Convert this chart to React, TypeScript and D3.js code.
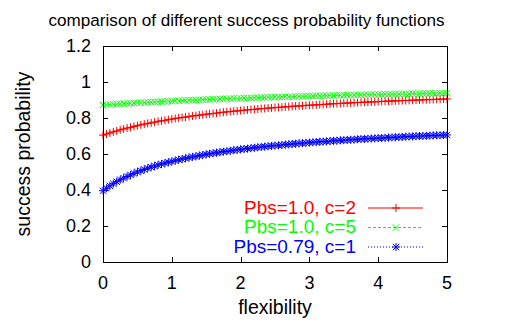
import * as d3 from "d3";

// sample grid (flexibility) and the three curves
const flexibility = [
  0, 0.05, 0.1, 0.15, 0.2, 0.25, 0.3, 0.35, 0.4, 0.45, 0.5, 0.55, 0.6, 0.65, 0.7, 0.75, 0.8, 0.85, 0.9, 0.95,
  1, 1.05, 1.1, 1.15, 1.2, 1.25, 1.3, 1.35, 1.4, 1.45, 1.5, 1.55, 1.6, 1.65, 1.7, 1.75, 1.8, 1.85, 1.9, 1.95,
  2, 2.05, 2.1, 2.15, 2.2, 2.25, 2.3, 2.35, 2.4, 2.45, 2.5, 2.55, 2.6, 2.65, 2.7, 2.75, 2.8, 2.85, 2.9, 2.95,
  3, 3.05, 3.1, 3.15, 3.2, 3.25, 3.3, 3.35, 3.4, 3.45, 3.5, 3.55, 3.6, 3.65, 3.7, 3.75, 3.8, 3.85, 3.9, 3.95,
  4, 4.05, 4.1, 4.15, 4.2, 4.25, 4.3, 4.35, 4.4, 4.45, 4.5, 4.55, 4.6, 4.65, 4.7, 4.75, 4.8, 4.85, 4.9, 4.95,
  5,
];

const pbs10c2 = [
  0.705, 0.711, 0.717, 0.723, 0.728, 0.734, 0.739, 0.744, 0.748, 0.753, 0.757, 0.762, 0.766, 0.770, 0.773, 0.777, 0.781, 0.784, 0.787, 0.791,
  0.794, 0.797, 0.800, 0.803, 0.805, 0.808, 0.811, 0.813, 0.816, 0.818, 0.821, 0.823, 0.825, 0.827, 0.830, 0.832, 0.834, 0.836, 0.838, 0.839,
  0.841, 0.843, 0.845, 0.847, 0.848, 0.850, 0.852, 0.853, 0.855, 0.856, 0.858, 0.859, 0.860, 0.862, 0.863, 0.865, 0.866, 0.867, 0.868, 0.870,
  0.871, 0.872, 0.873, 0.874, 0.875, 0.877, 0.878, 0.879, 0.880, 0.881, 0.882, 0.883, 0.884, 0.885, 0.886, 0.887, 0.888, 0.888, 0.889, 0.890,
  0.891, 0.892, 0.893, 0.894, 0.894, 0.895, 0.896, 0.897, 0.897, 0.898, 0.899, 0.900, 0.900, 0.901, 0.902, 0.902, 0.903, 0.904, 0.904, 0.905,
  0.906,
];

const pbs10c5 = [
  0.872, 0.873, 0.875, 0.876, 0.877, 0.878, 0.880, 0.881, 0.882, 0.883, 0.884, 0.885, 0.886, 0.887, 0.888, 0.889, 0.890, 0.891, 0.892, 0.893,
  0.894, 0.895, 0.896, 0.897, 0.898, 0.899, 0.899, 0.900, 0.901, 0.902, 0.903, 0.903, 0.904, 0.905, 0.906, 0.906, 0.907, 0.908, 0.909, 0.909,
  0.910, 0.911, 0.911, 0.912, 0.912, 0.913, 0.914, 0.914, 0.915, 0.916, 0.916, 0.917, 0.917, 0.918, 0.918, 0.919, 0.920, 0.920, 0.921, 0.921,
  0.922, 0.922, 0.923, 0.923, 0.924, 0.924, 0.925, 0.925, 0.926, 0.926, 0.927, 0.927, 0.927, 0.928, 0.928, 0.929, 0.929, 0.930, 0.930, 0.930,
  0.931, 0.931, 0.932, 0.932, 0.932, 0.933, 0.933, 0.934, 0.934, 0.934, 0.935, 0.935, 0.935, 0.936, 0.936, 0.937, 0.937, 0.937, 0.938, 0.938,
  0.938,
];

const pbs079c1 = [
  0.396, 0.410, 0.423, 0.435, 0.446, 0.457, 0.466, 0.475, 0.484, 0.492, 0.500, 0.507, 0.514, 0.521, 0.527, 0.533, 0.539, 0.544, 0.549, 0.554,
  0.559, 0.563, 0.568, 0.572, 0.576, 0.580, 0.584, 0.587, 0.591, 0.594, 0.598, 0.601, 0.604, 0.607, 0.610, 0.613, 0.615, 0.618, 0.621, 0.623,
  0.626, 0.628, 0.630, 0.632, 0.635, 0.637, 0.639, 0.641, 0.643, 0.645, 0.647, 0.648, 0.650, 0.652, 0.654, 0.655, 0.657, 0.659, 0.660, 0.662,
  0.663, 0.665, 0.666, 0.668, 0.669, 0.670, 0.672, 0.673, 0.674, 0.676, 0.677, 0.678, 0.679, 0.680, 0.682, 0.683, 0.684, 0.685, 0.686, 0.687,
  0.688, 0.689, 0.690, 0.691, 0.692, 0.693, 0.694, 0.695, 0.696, 0.697, 0.698, 0.699, 0.700, 0.700, 0.701, 0.702, 0.703, 0.704, 0.704, 0.705,
  0.706,
];

const xTicks = [0, 1, 2, 3, 4, 5];
const yTicks = [0, 0.2, 0.4, 0.6, 0.8, 1, 1.2];

const series = [
  { label: "Pbs=1.0, c=2", values: pbs10c2, color: "#ff0000", marker: "plus", dash: "none" },
  { label: "Pbs=1.0, c=5", values: pbs10c5, color: "#00ff00", marker: "cross", dash: "3,2" },
  { label: "Pbs=0.79, c=1", values: pbs079c1, color: "#0000ff", marker: "star", dash: "1,2" },
];

const width = 515;
const height = 324;
const margin = { top: 46, right: 68, bottom: 62, left: 103 };
const font = "'Liberation Sans', Arial, Helvetica, sans-serif";

function markerPath(kind: string, x: number, y: number, s: number) {
  const plus = `M${x - s},${y}H${x + s}M${x},${y - s}V${y + s}`;
  const k = s * 0.8;
  const cross = `M${x - k},${y - k}L${x + k},${y + k}M${x - k},${y + k}L${x + k},${y - k}`;
  if (kind === "plus") return plus;
  if (kind === "cross") return cross;
  return plus + cross;
}

export default function App() {
  const x = d3.scaleLinear().domain([0, 5]).range([margin.left, width - margin.right]);
  const y = d3.scaleLinear().domain([0, 1.2]).range([height - margin.bottom, margin.top]);
  const line = d3.line<number>().x((_, i) => x(flexibility[i])).y((d) => y(d));

  const x0 = x(0), x1 = x(5), y0 = y(0), y1 = y(1.2);
  const tl = 5;

  return (
    <svg width={width} height={height} style={{ position: "absolute", left: 0, top: 0, background: "#fff" }}
      fontFamily={font}>
      <text x={246.5} y={26} fontSize={17.1} textAnchor="middle">
        comparison of different success probability functions
      </text>

      {/* ticks, mirrored on all sides */}
      <g stroke="#000" strokeWidth={1} shapeRendering="crispEdges">
        {yTicks.map((t) => (
          <g key={"y" + t}>
            <line x1={x0} x2={x0 + tl} y1={Math.round(y(t)) + 0.5} y2={Math.round(y(t)) + 0.5} />
            <line x1={x1} x2={x1 - tl} y1={Math.round(y(t)) + 0.5} y2={Math.round(y(t)) + 0.5} />
          </g>
        ))}
        {xTicks.map((t) => (
          <g key={"x" + t}>
            <line x1={Math.round(x(t)) + 0.5} x2={Math.round(x(t)) + 0.5} y1={y0} y2={y0 - tl} />
            <line x1={Math.round(x(t)) + 0.5} x2={Math.round(x(t)) + 0.5} y1={y1} y2={y1 + tl} />
          </g>
        ))}
      </g>

      {yTicks.map((t) => (
        <text key={"yl" + t} x={x0 - 12} y={y(t)} dy="0.35em" fontSize={18} textAnchor="end">
          {String(t)}
        </text>
      ))}
      {xTicks.map((t) => (
        <text key={"xl" + t} x={x(t)} y={289} fontSize={18} textAnchor="middle">
          {String(t)}
        </text>
      ))}

      <text transform={`translate(30,${(y0 + y1) / 2}) rotate(-90)`} fontSize={19.5} textAnchor="middle">
        success probability
      </text>
      <text x={(x0 + x1) / 2} y={314} fontSize={19.5} textAnchor="middle">
        flexibility
      </text>

      {/* curves */}
      {series.map((s) => (
        <g key={s.label} stroke={s.color} strokeWidth={1} fill="none">
          <path d={line(s.values) || ""} strokeDasharray={s.dash} />
          <path d={s.values.map((v, i) => markerPath(s.marker, x(flexibility[i]), y(v), 4)).join("")} />
        </g>
      ))}

      {/* key */}
      {series.map((s, i) => {
        const cy = 208 + i * 19.5;
        return (
          <g key={"k" + s.label}>
            <text x={356} y={cy + 5.5} fontSize={19} fill={s.color} textAnchor="end">
              {s.label}
            </text>
            <line x1={368} x2={423} y1={cy} y2={cy} stroke={s.color} strokeDasharray={s.dash} />
            <path d={markerPath(s.marker, 396, cy, 4)} stroke={s.color} fill="none" />
          </g>
        );
      })}

      <rect x={x0} y={y1} width={x1 - x0} height={y0 - y1} fill="none" stroke="#000" strokeWidth={1}
        shapeRendering="crispEdges" />
    </svg>
  );
}
